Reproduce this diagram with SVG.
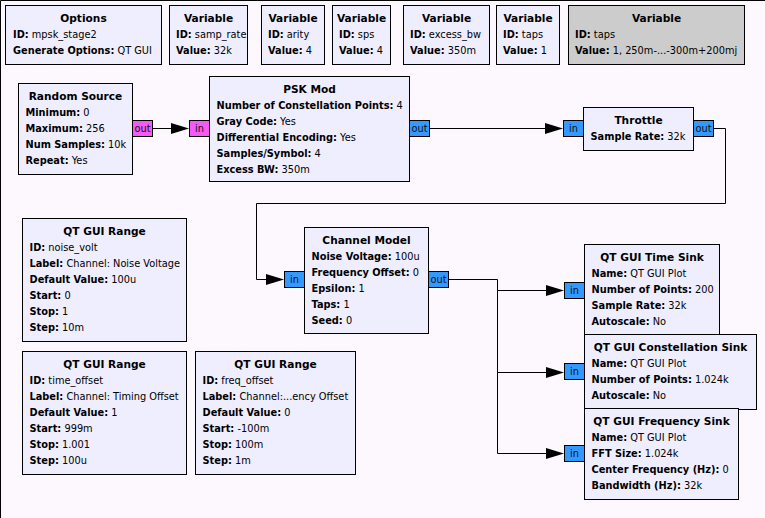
<svg xmlns="http://www.w3.org/2000/svg" width="765" height="518" viewBox="0 0 765 518">
  <style>
    .bg { fill: #fdf8fd; }
    .blk { fill: #eeeeff; stroke: #000; stroke-width: 1; }
    .dis { fill: #cccccc; stroke: #000; stroke-width: 1; }
    .pc { fill: #3399ff; stroke: #000; stroke-width: 1; }
    .pb { fill: #f55af5; stroke: #000; stroke-width: 1; }
    text { font-family: "DejaVu Sans", "Liberation Sans", sans-serif; font-size: 9.8px; fill: #000; }
    .h { font-weight: bold; text-anchor: middle; font-size: 10.6px; }
    .k { font-weight: bold; }
    .pt { text-anchor: middle; fill: #111; font-size: 9.8px; }
    .wire { fill: none; stroke: #000; stroke-width: 1; }
    .arr { fill: #000; }
  </style>
  <defs>
    <!-- filled connector arrowhead; tip at (0,0) -->
    <path id="arrow" class="arr" d="M -18 -5.5 L 0 0 L -18 5.5 Z"/>
  </defs>

  <rect class="bg" x="0" y="0" width="765" height="518"/>
  <path d="M 0.5 518 V 0.5 H 765" fill="none" stroke="#000" stroke-width="1"/>

  <!-- connectors -->
  <g id="connectors">
    <path class="wire" d="M 153 128.5 H 175"/>
    <use href="#arrow" x="189" y="128.5"/>
    <path class="wire" d="M 429 128.5 H 550"/>
    <use href="#arrow" x="563" y="128.5"/>
    <path class="wire" d="M 713 128.5 H 725.5 V 203.5 H 256.5 V 279.5 H 272"/>
    <use href="#arrow" x="284" y="279.5"/>
    <path class="wire" d="M 448 279.5 H 497.5 V 453.5"/>
    <path class="wire" d="M 497.5 290.5 H 550"/>
    <use href="#arrow" x="564" y="290.5"/>
    <path class="wire" d="M 497.5 372.5 H 550"/>
    <use href="#arrow" x="564" y="372.5"/>
    <path class="wire" d="M 497.5 453.5 H 550"/>
    <use href="#arrow" x="564" y="453.5"/>
  </g>

  <!-- variables and options -->
  <g id="options">
    <rect class="blk" x="5.5" y="5.5" width="156" height="59"/>
    <text class="h" x="83.5" y="22">Options</text>
    <text x="13" y="38"><tspan class="k">ID:</tspan> mpsk_stage2</text>
    <text x="13" y="54"><tspan class="k">Generate Options:</tspan> QT GUI</text>
  </g>
  <g id="var_samp_rate">
    <rect class="blk" x="169.5" y="5.5" width="78" height="59"/>
    <text class="h" x="208.5" y="22">Variable</text>
    <text x="176" y="38"><tspan class="k">ID:</tspan> samp_rate</text>
    <text x="176" y="54"><tspan class="k">Value:</tspan> 32k</text>
  </g>
  <g id="var_arity">
    <rect class="blk" x="261.5" y="5.5" width="63" height="59"/>
    <text class="h" x="293" y="22">Variable</text>
    <text x="268" y="38"><tspan class="k">ID:</tspan> arity</text>
    <text x="268" y="54"><tspan class="k">Value:</tspan> 4</text>
  </g>
  <g id="var_sps">
    <rect class="blk" x="332.5" y="5.5" width="58" height="59"/>
    <text class="h" x="361.5" y="22">Variable</text>
    <text x="339" y="38"><tspan class="k">ID:</tspan> sps</text>
    <text x="339" y="54"><tspan class="k">Value:</tspan> 4</text>
  </g>
  <g id="var_excess_bw">
    <rect class="blk" x="403.5" y="5.5" width="86" height="59"/>
    <text class="h" x="446.5" y="22">Variable</text>
    <text x="410" y="38"><tspan class="k">ID:</tspan> excess_bw</text>
    <text x="410" y="54"><tspan class="k">Value:</tspan> 350m</text>
  </g>
  <g id="var_taps">
    <rect class="blk" x="496.5" y="5.5" width="63" height="59"/>
    <text class="h" x="528" y="22">Variable</text>
    <text x="503" y="38"><tspan class="k">ID:</tspan> taps</text>
    <text x="503" y="54"><tspan class="k">Value:</tspan> 1</text>
  </g>
  <g id="var_taps_disabled">
    <rect class="dis" x="568.5" y="5.5" width="176" height="59"/>
    <text class="h" x="656.5" y="22">Variable</text>
    <text x="575" y="38"><tspan class="k">ID:</tspan> taps</text>
    <text x="575" y="54"><tspan class="k">Value:</tspan> 1, 250m-...-300m+200mj</text>
  </g>

  <!-- signal chain -->
  <g id="random_source">
    <rect class="blk" x="18.5" y="83.5" width="114" height="91"/>
    <text class="h" x="75.5" y="100">Random Source</text>
    <text x="25.5" y="116"><tspan class="k">Minimum:</tspan> 0</text>
    <text x="25.5" y="132"><tspan class="k">Maximum:</tspan> 256</text>
    <text x="25.5" y="148"><tspan class="k">Num Samples:</tspan> 10k</text>
    <text x="25.5" y="164"><tspan class="k">Repeat:</tspan> Yes</text>
    <rect class="pb" x="132.5" y="120.5" width="20" height="16"/>
    <text class="pt" x="142.5" y="132">out</text>
  </g>
  <g id="psk_mod">
    <rect class="blk" x="209.5" y="76.5" width="200" height="105"/>
    <text class="h" x="309.5" y="92.5">PSK Mod</text>
    <text x="216.5" y="109"><tspan class="k">Number of Constellation Points:</tspan> 4</text>
    <text x="216.5" y="125"><tspan class="k">Gray Code:</tspan> Yes</text>
    <text x="216.5" y="141"><tspan class="k">Differential Encoding:</tspan> Yes</text>
    <text x="216.5" y="157"><tspan class="k">Samples/Symbol:</tspan> 4</text>
    <text x="216.5" y="173"><tspan class="k">Excess BW:</tspan> 350m</text>
    <rect class="pb" x="189.5" y="120.5" width="20" height="16"/>
    <text class="pt" x="199.5" y="132">in</text>
    <rect class="pc" x="409.5" y="120.5" width="20" height="16"/>
    <text class="pt" x="419.5" y="132">out</text>
  </g>
  <g id="throttle">
    <rect class="blk" x="583.5" y="107.5" width="110" height="43"/>
    <text class="h" x="638.5" y="124">Throttle</text>
    <text x="590.5" y="140"><tspan class="k">Sample Rate:</tspan> 32k</text>
    <rect class="pc" x="563.5" y="120.5" width="20" height="16"/>
    <text class="pt" x="573.5" y="132">in</text>
    <rect class="pc" x="693.5" y="120.5" width="20" height="16"/>
    <text class="pt" x="703.5" y="132">out</text>
  </g>
  <g id="channel_model">
    <rect class="blk" x="304.5" y="227.5" width="124" height="106"/>
    <text class="h" x="366.5" y="244">Channel Model</text>
    <text x="311.5" y="260"><tspan class="k">Noise Voltage:</tspan> 100u</text>
    <text x="311.5" y="276"><tspan class="k">Frequency Offset:</tspan> 0</text>
    <text x="311.5" y="292"><tspan class="k">Epsilon:</tspan> 1</text>
    <text x="311.5" y="308"><tspan class="k">Taps:</tspan> 1</text>
    <text x="311.5" y="324"><tspan class="k">Seed:</tspan> 0</text>
    <rect class="pc" x="284.5" y="271.5" width="20" height="16"/>
    <text class="pt" x="294.5" y="283">in</text>
    <rect class="pc" x="428.5" y="271.5" width="20" height="16"/>
    <text class="pt" x="438.5" y="283">out</text>
  </g>

  <!-- sinks -->
  <g id="time_sink">
    <rect class="blk" x="584.5" y="244.5" width="135" height="91"/>
    <text class="h" x="652" y="261">QT GUI Time Sink</text>
    <text x="591.5" y="277"><tspan class="k">Name:</tspan> QT GUI Plot</text>
    <text x="591.5" y="293"><tspan class="k">Number of Points:</tspan> 200</text>
    <text x="591.5" y="309"><tspan class="k">Sample Rate:</tspan> 32k</text>
    <text x="591.5" y="325"><tspan class="k">Autoscale:</tspan> No</text>
    <rect class="pc" x="564.5" y="282.5" width="20" height="16"/>
    <text class="pt" x="574.5" y="294">in</text>
  </g>
  <g id="const_sink">
    <rect class="blk" x="584.5" y="334.5" width="172" height="75"/>
    <text class="h" x="670.5" y="351">QT GUI Constellation Sink</text>
    <text x="591.5" y="367"><tspan class="k">Name:</tspan> QT GUI Plot</text>
    <text x="591.5" y="383"><tspan class="k">Number of Points:</tspan> 1.024k</text>
    <text x="591.5" y="399"><tspan class="k">Autoscale:</tspan> No</text>
    <rect class="pc" x="564.5" y="363.5" width="20" height="16"/>
    <text class="pt" x="574.5" y="375">in</text>
  </g>
  <g id="freq_sink">
    <rect class="blk" x="584.5" y="408.5" width="154" height="91"/>
    <text class="h" x="661.5" y="425">QT GUI Frequency Sink</text>
    <text x="591.5" y="441"><tspan class="k">Name:</tspan> QT GUI Plot</text>
    <text x="591.5" y="457"><tspan class="k">FFT Size:</tspan> 1.024k</text>
    <text x="591.5" y="473"><tspan class="k">Center Frequency (Hz):</tspan> 0</text>
    <text x="591.5" y="489"><tspan class="k">Bandwidth (Hz):</tspan> 32k</text>
    <rect class="pc" x="564.5" y="445.5" width="20" height="16"/>
    <text class="pt" x="574.5" y="457">in</text>
  </g>

  <!-- GUI range controls -->
  <g id="range_noise_volt">
    <rect class="blk" x="22.5" y="218.5" width="164" height="123"/>
    <text class="h" x="104.5" y="235">QT GUI Range</text>
    <text x="29.5" y="251"><tspan class="k">ID:</tspan> noise_volt</text>
    <text x="29.5" y="267"><tspan class="k">Label:</tspan> Channel: Noise Voltage</text>
    <text x="29.5" y="283"><tspan class="k">Default Value:</tspan> 100u</text>
    <text x="29.5" y="299"><tspan class="k">Start:</tspan> 0</text>
    <text x="29.5" y="315"><tspan class="k">Stop:</tspan> 1</text>
    <text x="29.5" y="331"><tspan class="k">Step:</tspan> 10m</text>
  </g>
  <g id="range_time_offset">
    <rect class="blk" x="22.5" y="351.5" width="164" height="123"/>
    <text class="h" x="104.5" y="368">QT GUI Range</text>
    <text x="29.5" y="384"><tspan class="k">ID:</tspan> time_offset</text>
    <text x="29.5" y="400"><tspan class="k">Label:</tspan> Channel: Timing Offset</text>
    <text x="29.5" y="416"><tspan class="k">Default Value:</tspan> 1</text>
    <text x="29.5" y="432"><tspan class="k">Start:</tspan> 999m</text>
    <text x="29.5" y="448"><tspan class="k">Stop:</tspan> 1.001</text>
    <text x="29.5" y="464"><tspan class="k">Step:</tspan> 100u</text>
  </g>
  <g id="range_freq_offset">
    <rect class="blk" x="195.5" y="351.5" width="160" height="123"/>
    <text class="h" x="275.5" y="368">QT GUI Range</text>
    <text x="202.5" y="384"><tspan class="k">ID:</tspan> freq_offset</text>
    <text x="202.5" y="400"><tspan class="k">Label:</tspan> Channel:...ency Offset</text>
    <text x="202.5" y="416"><tspan class="k">Default Value:</tspan> 0</text>
    <text x="202.5" y="432"><tspan class="k">Start:</tspan> -100m</text>
    <text x="202.5" y="448"><tspan class="k">Stop:</tspan> 100m</text>
    <text x="202.5" y="464"><tspan class="k">Step:</tspan> 1m</text>
  </g>
</svg>
